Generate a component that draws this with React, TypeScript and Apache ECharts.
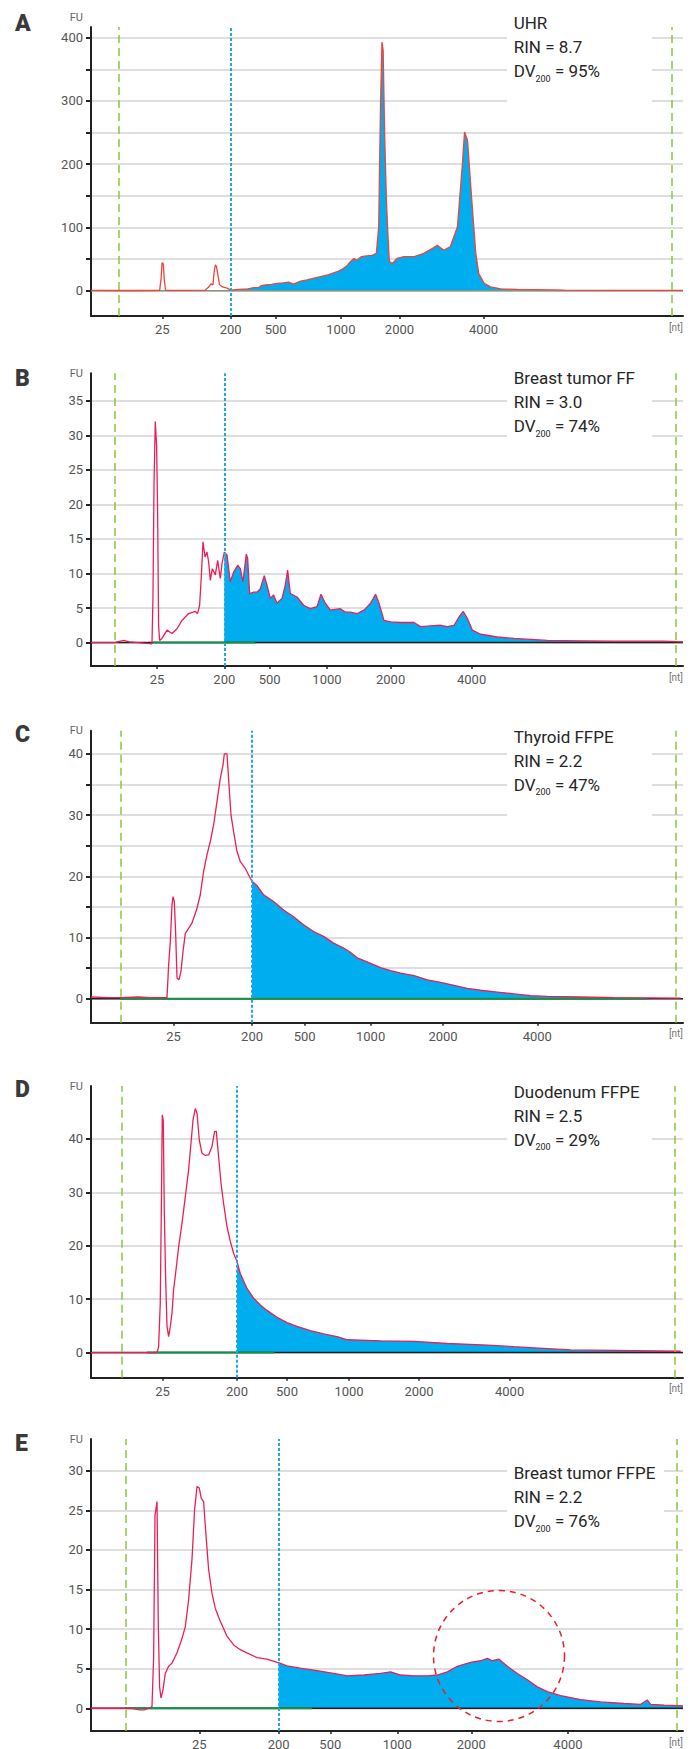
import React, { useEffect, useRef } from "react";
import * as echarts from "echarts";

// ---------- DATA ----------
const PANEL_LETTERS = ["A", "B", "C", "D", "E"];
const SAMPLE_NAMES = ["UHR", "Breast tumor FF", "Thyroid FFPE", "Duodenum FFPE", "Breast tumor FFPE"];
const RIN_VALUES = ["8.7", "3.0", "2.2", "2.5", "2.2"];
const DV200_VALUES = ["95%", "74%", "47%", "29%", "76%"];

// size ladder labels [nt] and their migration positions (% of run window) in each panel
const LADDER_LABELS = ["25", "200", "500", "1000", "2000", "4000"];
const LADDER_POS_A = [12.04, 23.6, 31.2, 42.2, 52.1, 66.3];
const LADDER_POS_B = [11.15, 22.52, 30.17, 39.86, 50.61, 64.29];
const LADDER_POS_C = [13.95, 27.2, 36.08, 47.23, 59.46, 75.39];
const LADDER_POS_D = [12.09, 24.66, 33.11, 43.58, 55.41, 70.71];
const LADDER_POS_E = [18.29, 31.69, 40.42, 51.74, 64.24, 80.57];

// lower / upper markers and DV200 cut (200 nt) positions
const LOWER_MARKER = [4.66, 3.99, 4.95, 5.12, 5.79];
const UPPER_MARKER = [98.1, 98.75, 98.75, 98.65, 98.87];
const DV200_CUT = [23.6, 22.52, 27.2, 24.66, 31.69];

// fluorescence axis ranges and ticks
const Y_MIN = [-40, -3.4, -3.9, -4.7, -2.87];
const Y_MAX = [417, 39, 43.8, 49.9, 34];
const Y_LABELS_A = [0, 100, 200, 300, 400];
const Y_LABELS_B = [0, 5, 10, 15, 20, 25, 30, 35];
const Y_LABELS_C = [0, 10, 20, 30, 40];
const Y_LABELS_D = [0, 10, 20, 30, 40];
const Y_LABELS_E = [0, 5, 10, 15, 20, 25, 30];
const Y_GRID_A = [0, 50, 100, 150, 200, 250, 300, 350, 400];
const Y_GRID_B = [0, 5, 10, 15, 20, 25, 30, 35];
const Y_GRID_C = [0, 5, 10, 15, 20, 25, 30, 35, 40];
const Y_GRID_D = [0, 10, 20, 30, 40];
const Y_GRID_E = [0, 5, 10, 15, 20, 25, 30];

// baseline segments highlighted in green [start, end]
const GREEN_SEGMENTS = [null, [10.5, 27.75], [4.95, 93.97], [9.46, 30.96], [5.8, 37.3]];

// electropherogram traces: [position, FU]
const TRACE_A = [
  [0, 0.5], [4.66, 0.3], [8, 0.3], [11.6, 0.5], [11.85, 20], [12.0, 44], [12.2, 43], [12.4, 15], [12.6, 1],
  [13.5, 0.5], [16, 0.5], [19.3, 1], [19.8, 5], [20.3, 11], [20.6, 9], [20.8, 30], [21.0, 41], [21.2, 38],
  [21.4, 27], [21.7, 10], [22.2, 6], [23.0, 4], [23.6, 1], [25, 2], [26.5, 3], [27.5, 5], [28.3, 5], [28.8, 8],
  [29.5, 9], [30.5, 10], [31.4, 11.6], [32.5, 12.5], [33.4, 13.7], [34.2, 10.5], [35.4, 15], [36.5, 17],
  [38.2, 21], [40, 25], [41.6, 30], [42.6, 35], [43.3, 40], [43.8, 46], [44.4, 51], [44.9, 48], [45.7, 54],
  [46.5, 55], [47.5, 56], [48.2, 59], [48.6, 101], [48.9, 290], [49.15, 393], [49.35, 380], [49.6, 248],
  [49.9, 143], [50.2, 80], [50.4, 46], [50.9, 43], [51.7, 51], [52.9, 54], [54.6, 54], [56.2, 59], [57.7, 67],
  [58.5, 72], [59.6, 64], [60.7, 70], [61.9, 101], [62.7, 196], [63.1, 251], [63.6, 238], [64.0, 185],
  [64.4, 133], [65.0, 59], [65.5, 27], [66.4, 11.6], [67.5, 6], [69.2, 3], [72, 2], [80, 1], [90, 0.5], [100, 0.5],
];
const TRACE_B = [
  [0, 0], [4, 0], [5.5, 0.3], [6.5, 0.1], [10.3, -0.2], [10.47, 6.6], [10.64, 22.8], [10.86, 32], [11.08, 28.6],
  [11.25, 19.2], [11.42, 2.5], [11.59, 0.3], [11.99, 0.6], [12.84, 1.8], [13.68, 1.3], [14.53, 2], [15.37, 3.2],
  [16.49, 4.2], [17.62, 4.5], [18.0, 4.2], [18.35, 5.4], [18.63, 9.5], [18.92, 14.6], [19.26, 12.4], [19.59, 13.1],
  [19.87, 11.7], [20.15, 9], [20.49, 10.7], [21.0, 9.8], [21.39, 11.9], [21.84, 9.3], [22.12, 11.4], [22.52, 13.1],
  [22.97, 12.7], [23.53, 8.8], [24.09, 10.2], [24.77, 11.2], [25.22, 10.7], [25.67, 8.8], [26.23, 12.8],
  [26.46, 12.2], [26.79, 7.1], [27.47, 7.3], [28.04, 7.3], [28.6, 7.8], [29.27, 9.7], [29.73, 8.3], [30.29, 6.4],
  [30.84, 6.9], [31.42, 5.7], [32.26, 6.4], [32.82, 8.3], [33.21, 10.5], [33.67, 7.1], [34.8, 6.6], [35.91, 5.4],
  [37.04, 4.9], [38.18, 5.2], [38.85, 7], [39.58, 5.7], [40.42, 4.7], [42.11, 4.9], [42.96, 4.4], [43.8, 4.4],
  [44.98, 4.2], [46.11, 4.7], [47.23, 5.7], [48.07, 7], [48.65, 5.7], [49.49, 3.2], [50.61, 3], [52.3, 2.9],
  [54.56, 2.9], [55.68, 2.3], [57.36, 2.4], [59.05, 2.5], [60.19, 2.3], [61.32, 2.5], [62.16, 3.7], [62.89, 4.5],
  [63.56, 3.5], [64.41, 1.8], [65.81, 1.2], [68.63, 0.8], [71.45, 0.6], [77.08, 0.3], [82.7, 0.25], [88.34, 0.2],
  [96.79, 0.2], [100, 0.1],
];
const TRACE_C = [
  [0, 0.3], [3, 0.2], [5, 0.2], [8, 0.3], [10, 0.2], [12.84, 0.2], [13.11, 5.5], [13.4, 9.4], [13.68, 15.3],
  [13.85, 16.7], [14.07, 15.9], [14.29, 11], [14.53, 3.4], [14.86, 3.1], [15.2, 4.5], [15.54, 7.7], [15.93, 10.7],
  [16.49, 11.5], [17.06, 12.4], [17.91, 14.8], [18.46, 17], [19.02, 20.8], [19.59, 23.5], [20.15, 25.7],
  [20.71, 28.4], [21.28, 32.2], [21.84, 36], [22.3, 38.2], [22.52, 40], [22.97, 40], [23.24, 36], [23.65, 30],
  [24.09, 27.3], [24.66, 24.1], [25.22, 22.4], [26.06, 21.3], [26.91, 19.7], [27.2, 19.2], [28.04, 18.5],
  [29.16, 17], [30.84, 15.9], [32.53, 14.5], [34.22, 13.4], [35.91, 12.1], [37.6, 11], [39.29, 10.2],
  [40.98, 9.1], [42.67, 8.3], [43.8, 7.6], [44.98, 6.7], [47.23, 5.8], [48.92, 5.1], [50.61, 4.6], [52.3, 4.2],
  [54.56, 3.8], [56.81, 3.1], [59.05, 2.7], [61.32, 2.2], [63.56, 1.7], [65.81, 1.4], [68.63, 1.1], [71.45, 0.8],
  [74.27, 0.5], [77.08, 0.4], [82.7, 0.3], [88.34, 0.2], [99.6, 0.1],
];
const TRACE_D = [
  [0, 0], [5, 0], [11.15, 0], [11.42, 1.1], [11.7, 9.2], [11.88, 26.7], [12.04, 44.5], [12.21, 43.5],
  [12.38, 26.7], [12.6, 14.2], [12.84, 4.9], [13.11, 3], [13.4, 4.9], [13.68, 7.4], [13.95, 11.7], [14.36, 15.5],
  [14.8, 19.8], [15.37, 24.2], [15.93, 29.2], [16.49, 34.2], [16.89, 39.2], [17.23, 43.5], [17.62, 45.7],
  [17.91, 44.8], [18.29, 39.8], [18.75, 37.3], [19.31, 36.9], [19.87, 37], [20.44, 38.6], [20.88, 41.4],
  [21.17, 41.4], [21.55, 36.7], [21.96, 31.7], [22.4, 27.9], [22.97, 23.6], [23.53, 20.8], [24.09, 18.6],
  [24.54, 17.4], [24.66, 17.0], [25.22, 14.8], [26.35, 12], [27.47, 10.2], [28.6, 8.9], [29.73, 7.9],
  [31.42, 6.6], [33.11, 5.6], [34.8, 4.9], [37.04, 4.1], [39.29, 3.5], [41.55, 3], [43.3, 2.4], [48.92, 2.2],
  [54.56, 2.1], [60.19, 1.7], [66.95, 1.4], [71.45, 1.1], [74.83, 0.9], [81.02, 0.5], [88.34, 0.4], [99.6, 0.25],
];
const TRACE_E = [
  [0, 0], [7, 0], [8.2, -0.2], [9, -0.2], [10, 0.1], [10.3, 0.2], [10.58, 6.5], [10.81, 24.4], [11.15, 26.1],
  [11.37, 10.3], [11.59, 2.7], [11.82, 1.3], [12.16, 2.3], [12.55, 4.4], [13.11, 5.3], [13.68, 5.7], [14.53, 7],
  [15.37, 8.8], [15.93, 10.3], [16.49, 13.7], [17.06, 18.8], [17.5, 25.1], [17.91, 28], [18.29, 27.8],
  [18.63, 26.5], [19.02, 26.1], [19.36, 22.5], [19.87, 17.5], [20.44, 14.5], [21.0, 12.6], [21.84, 11],
  [22.97, 9.1], [24.09, 8], [25.22, 7.4], [26.35, 7], [28.04, 6.4], [29.73, 6.2], [31.42, 5.8], [31.69, 5.75],
  [33.11, 5.35], [35.35, 5.06], [38.18, 4.76], [40.98, 4.4], [43.3, 4.1], [46.11, 4.2], [48.92, 4.4],
  [50.61, 4.6], [52.3, 4.2], [54.56, 4.1], [56.81, 4.1], [58.5, 4.2], [60.19, 4.6], [61.88, 5.3], [64.13, 5.8],
  [65.81, 6.0], [66.95, 6.3], [67.79, 6.0], [68.92, 6.2], [70.33, 5.3], [72.02, 4.4], [73.7, 3.6], [75.39, 2.7],
  [77.08, 2.1], [79.34, 1.6], [82.7, 1.1], [86.08, 0.8], [90.02, 0.6], [92.84, 0.5], [93.97, 1.05], [94.53, 0.5],
  [96.79, 0.4], [100, 0.3],
];
// highlighted region (circle) in panel E: [position, FU]
const HIGHLIGHT_E = [68.92, 6.6];

// ---------- LAYOUT / STYLE ----------
const FONT = "Roboto, 'Noto Sans', sans-serif";
const GRID_LEFT = 91;
const GRID_WIDTH = 592;
const GRID_TOP = [27, 373.3, 730.7, 1086, 1439];
const GRID_HEIGHT = [289, 292.7, 292, 291.7, 292];
const LETTER_Y = [23.7, 378, 734, 1089, 1443];
const TEXT_TOP = [11, 366, 724.7, 1079.7, 1461.3];
const BOX_RECT = [
  [507, 9, 145, 103],
  [507, 364, 145, 81],
  [507, 723, 145, 103],
  [507, 1078, 145, 82],
  [507, 1459, 157, 81],
];
const FU_GAP = [10, 0, 0, 0, 0];
const TRACE_COLORS = ["#f0433a", "#ec1f55", "#ec1f55", "#ec1f55", "#ec1f55"];
const BASELINE_COLORS = ["#7f9a80", "#222222", "#222222", "#222222", "#222222"];

const TRACES = [TRACE_A, TRACE_B, TRACE_C, TRACE_D, TRACE_E];
const LADDER_POS = [LADDER_POS_A, LADDER_POS_B, LADDER_POS_C, LADDER_POS_D, LADDER_POS_E];
const Y_LABELS = [Y_LABELS_A, Y_LABELS_B, Y_LABELS_C, Y_LABELS_D, Y_LABELS_E];
const Y_GRID = [Y_GRID_A, Y_GRID_B, Y_GRID_C, Y_GRID_D, Y_GRID_E];

function buildOption() {
  const grid: any[] = [];
  const xAxis: any[] = [];
  const yAxis: any[] = [];
  const series: any[] = [];
  const graphic: any[] = [];

  for (let i = 0; i < 5; i++) {
    grid.push({
      left: GRID_LEFT,
      top: GRID_TOP[i],
      width: GRID_WIDTH,
      height: GRID_HEIGHT[i],
      containLabel: false,
      outerBoundsMode: "none",
    });
    const pos = LADDER_POS[i];
    xAxis.push({
      gridIndex: i,
      type: "value",
      min: 0,
      max: 100,
      name: "[nt]",
      nameLocation: "end",
      nameGap: 0,
      nameTextStyle: {
        align: "right",
        verticalAlign: "top",
        padding: [6, 0, 0, 0],
        color: "#777",
        fontSize: 10,
        fontFamily: FONT,
      },
      axisLine: { show: true, onZero: false, lineStyle: { color: "#222", width: 2 } },
      axisTick: { show: true, customValues: pos, length: 3, lineStyle: { color: "#222", width: 1.5 } },
      axisLabel: {
        show: true,
        customValues: pos,
        formatter: (v: number) => {
          const k = pos.findIndex((p) => Math.abs(p - v) < 1e-6);
          return k >= 0 ? LADDER_LABELS[k] : "";
        },
        color: "#555",
        fontSize: 13,
        margin: 7,
        fontFamily: FONT,
      },
      splitLine: { show: false },
    });
    yAxis.push({
      gridIndex: i,
      type: "value",
      min: Y_MIN[i],
      max: Y_MAX[i],
      name: "FU",
      nameLocation: "end",
      nameGap: FU_GAP[i],
      nameTextStyle: {
        align: "right",
        verticalAlign: "middle",
        padding: [0, 8, 0, 0],
        color: "#666",
        fontSize: 11,
        fontFamily: FONT,
      },
      axisLine: { show: true, onZero: false, lineStyle: { color: "#222", width: 2 } },
      axisTick: { show: true, customValues: Y_GRID[i], length: 5, lineStyle: { color: "#222", width: 2 } },
      axisLabel: { show: true, customValues: Y_LABELS[i], color: "#555", fontSize: 13, margin: 8, fontFamily: FONT },
      splitLine: { show: true, customValues: Y_GRID[i], lineStyle: { color: "#d3d3d3", width: 1.5 } },
    });

    const trace = TRACES[i];
    const cut = DV200_CUT[i];
    // blue fill (>= 200 nt)
    series.push({
      type: "line",
      xAxisIndex: i,
      yAxisIndex: i,
      data: trace.filter((p) => p[0] >= cut),
      symbol: "none",
      lineStyle: { width: 0 },
      areaStyle: { color: "#00aeef", opacity: 1 },
      z: 2,
      silent: true,
    });
    // baseline
    series.push({
      type: "line",
      xAxisIndex: i,
      yAxisIndex: i,
      data: [[0, 0], [100, 0]],
      symbol: "none",
      lineStyle: { color: BASELINE_COLORS[i], width: 1.5 },
      z: 3,
      silent: true,
    });
    const seg = GREEN_SEGMENTS[i];
    if (seg) {
      series.push({
        type: "line",
        xAxisIndex: i,
        yAxisIndex: i,
        data: [[seg[0], 0], [seg[1], 0]],
        symbol: "none",
        lineStyle: { color: "#13924a", width: 2 },
        z: 3,
        silent: true,
      });
    }
    // trace
    series.push({
      type: "line",
      xAxisIndex: i,
      yAxisIndex: i,
      data: trace,
      symbol: "none",
      lineStyle: { color: TRACE_COLORS[i], width: 1.3 },
      z: 4,
      silent: true,
      markLine: {
        silent: true,
        symbol: ["none", "none"],
        label: { show: false },
        data: [
          { xAxis: LOWER_MARKER[i], lineStyle: { color: "#8cc63f", width: 1.5, type: [8, 5] } },
          { xAxis: UPPER_MARKER[i], lineStyle: { color: "#8cc63f", width: 1.5, type: [8, 5] } },
          { xAxis: cut, lineStyle: { color: "#1fa8e4", width: 2, type: [3, 2] } },
        ],
      },
    });

    // panel letter
    graphic.push({
      type: "text",
      x: 15,
      y: LETTER_Y[i],
      z: 20,
      style: {
        text: PANEL_LETTERS[i],
        font: `900 23px ${FONT}`,
        fill: "#3a3a3a",
        verticalAlign: "middle",
        align: "left",
      },
    });
    // text box
    const r = BOX_RECT[i];
    graphic.push({
      type: "rect",
      z: 10,
      shape: { x: r[0], y: r[1], width: r[2], height: r[3] },
      style: { fill: "#ffffff" },
      silent: true,
    });
    graphic.push({
      type: "text",
      x: 513.7,
      y: TEXT_TOP[i],
      z: 11,
      style: {
        text: `${SAMPLE_NAMES[i]}\nRIN = ${RIN_VALUES[i]}\nDV{sub|200} = ${DV200_VALUES[i]}`,
        font: `17px ${FONT}`,
        lineHeight: 24,
        fill: "#262626",
        align: "left",
        verticalAlign: "top",
        rich: {
          sub: { fontSize: 9, lineHeight: 7, verticalAlign: "bottom", fill: "#262626", fontFamily: FONT },
        },
      },
    });
  }

  return {
    animation: false,
    backgroundColor: "#ffffff",
    textStyle: { fontFamily: FONT },
    grid,
    xAxis,
    yAxis,
    series,
    graphic,
  };
}

export default function App() {
  const ref = useRef<HTMLDivElement>(null);
  useEffect(() => {
    document.body.style.margin = "0";
    if (!ref.current) return;
    const chart = echarts.init(ref.current, undefined, { renderer: "svg" });
    const option: any = buildOption();
    chart.setOption(option);
    const c = chart.convertToPixel({ xAxisIndex: 4, yAxisIndex: 4 } as any, HIGHLIGHT_E) as number[];
    option.graphic.push({
      type: "circle",
      z: 30,
      shape: { cx: c[0], cy: c[1], r: 65.5 },
      style: { fill: "none", stroke: "#e8202a", lineWidth: 1.5, lineDash: [6, 5] },
      silent: true,
    });
    chart.setOption({ graphic: option.graphic });
    return () => chart.dispose();
  }, []);
  return <div ref={ref} style={{ width: 697, height: 1749 }} />;
}
